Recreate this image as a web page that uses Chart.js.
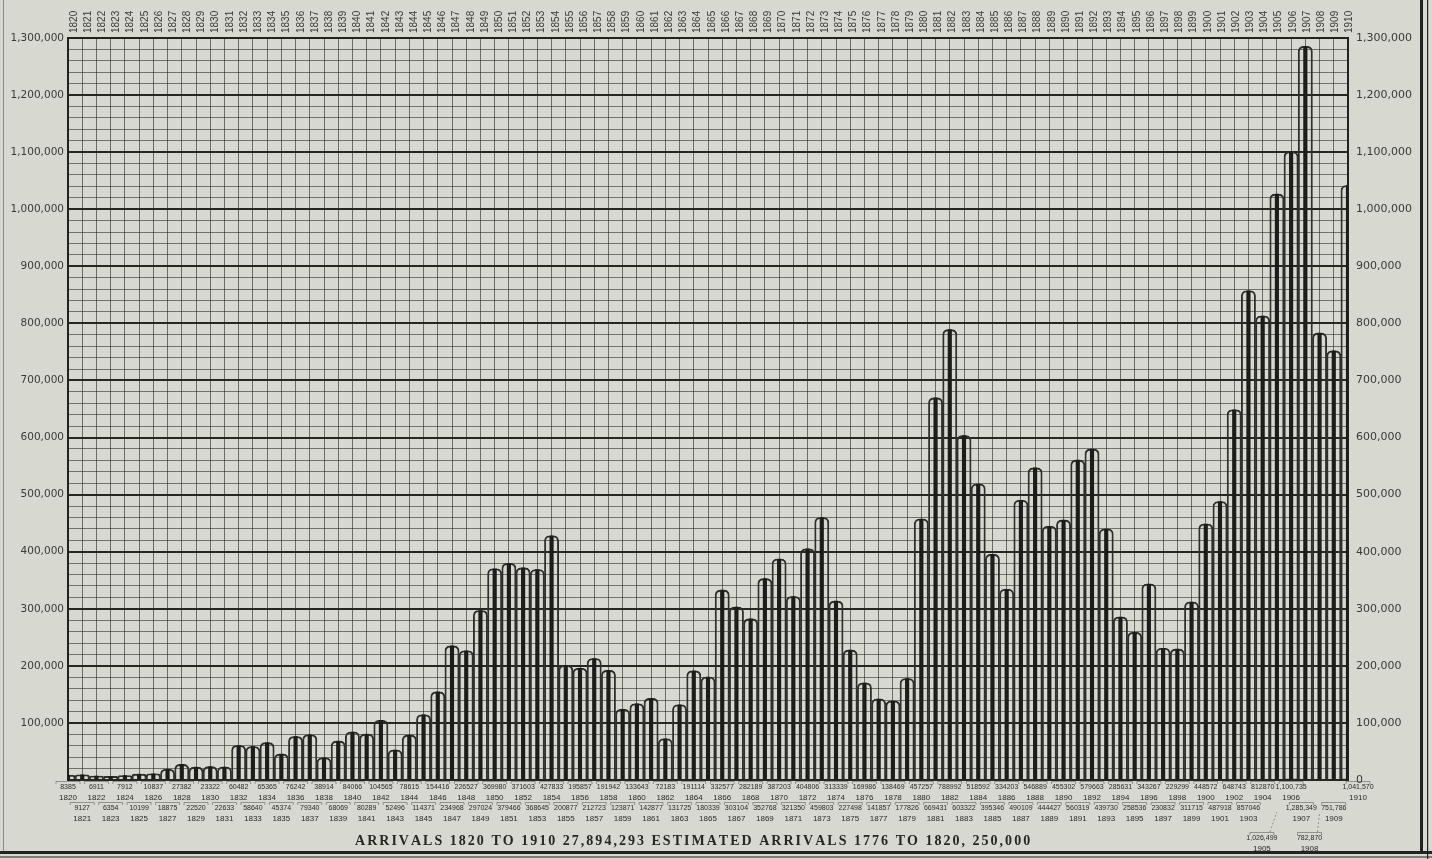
<!DOCTYPE html>
<html>
<head>
<meta charset="utf-8">
<title>Arrivals 1820 to 1910</title>
<script src="https://cdn.jsdelivr.net/npm/chart.js@4.4.1/dist/chart.umd.min.js"></script>
<style>
  html, body { margin: 0; padding: 0; background: #d7d8d0; }
  canvas { display: block; }
</style>
</head>
<body>
<canvas id="arrivalsChart" width="1432" height="859"></canvas>
<script>
const years = [
  "1820", "1821", "1822", "1823", "1824", "1825", "1826", "1827", "1828", "1829",
  "1830", "1831", "1832", "1833", "1834", "1835", "1836", "1837", "1838", "1839",
  "1840", "1841", "1842", "1843", "1844", "1845", "1846", "1847", "1848", "1849",
  "1850", "1851", "1852", "1853", "1854", "1855", "1856", "1857", "1858", "1859",
  "1860", "1861", "1862", "1863", "1864", "1865", "1866", "1867", "1868", "1869",
  "1870", "1871", "1872", "1873", "1874", "1875", "1876", "1877", "1878", "1879",
  "1880", "1881", "1882", "1883", "1884", "1885", "1886", "1887", "1888", "1889",
  "1890", "1891", "1892", "1893", "1894", "1895", "1896", "1897", "1898", "1899",
  "1900", "1901", "1902", "1903", "1904", "1905", "1906", "1907", "1908", "1909",
  "1910",
];

const arrivals = [
  8385, 9127, 6911, 6354, 7912, 10199, 10837, 18875, 27382, 22520,
  23322, 22633, 60482, 58640, 65365, 45374, 76242, 79340, 38914, 68069,
  84066, 80289, 104565, 52496, 78615, 114371, 154416, 234968, 226527, 297024,
  369980, 379466, 371603, 368645, 427833, 200877, 195857, 212723, 191942, 123871,
  133643, 142877, 72183, 131725, 191114, 180339, 332577, 303104, 282189, 352768,
  387203, 321350, 404806, 459803, 313339, 227498, 169986, 141857, 138469, 177826,
  457257, 669431, 788992, 603322, 518592, 395346, 334203, 490109, 546889, 444427,
  455302, 560319, 579663, 439730, 285631, 258536, 343267, 230832, 229299, 311715,
  448572, 487918, 648743, 857046, 812870, 1026499, 1100735, 1285349, 782870, 751786,
  1041570,
];

const yMax = 1300000;
const minorStep = 20000;
const majorStep = 100000;

const titleText =
  "ARRIVALS 1820 TO 1910 27,894,293 ESTIMATED ARRIVALS 1776 TO 1820, 250,000";

// years whose label sits on a third row below the others
const lowRowYears = { "1905": -15, "1908": -10 };

const paper = "#d7d8d0";
const ink = "#1c1c1a";

function fmt(v) {
  return v.toLocaleString("en-US");
}

const paperBg = {
  id: "paperBg",
  beforeDraw(chart) {
    const ctx = chart.ctx;
    ctx.save();
    ctx.fillStyle = paper;
    ctx.fillRect(0, 0, chart.width, chart.height);
    ctx.restore();
  },
};

const yearLabels = {
  id: "yearLabels",
  afterDraw(chart) {
    const ctx = chart.ctx;
    const x = chart.scales.x;
    ctx.save();
    ctx.fillStyle = "#3a3a38";
    ctx.font = "10px 'Liberation Sans', sans-serif";
    ctx.textAlign = "left";
    ctx.textBaseline = "middle";
    years.forEach((yr, i) => {
      const px = x.getPixelForValue(i) + 6 - i * 0.05;
      ctx.save();
      ctx.translate(px, 33);
      ctx.rotate(-Math.PI / 2);
      ctx.fillText(yr, 0, 0);
      ctx.restore();
    });
    ctx.restore();
  },
};

const bottomLabels = {
  id: "bottomLabels",
  afterDraw(chart) {
    const ctx = chart.ctx;
    const x = chart.scales.x;
    ctx.save();
    ctx.fillStyle = "#2a2a28";
    ctx.strokeStyle = "rgba(40,40,40,0.5)";
    ctx.lineWidth = 0.8;
    ctx.textAlign = "center";
    ctx.textBaseline = "middle";

    years.forEach((yr, i) => {
      let px = x.getPixelForValue(i);
      let vy = i % 2 === 0 ? 787 : 808;
      const val = i >= 85 ? fmt(arrivals[i]) : String(arrivals[i]);
      if (lowRowYears[yr] !== undefined) {
        px += lowRowYears[yr];
        vy = 838;
        ctx.beginPath();
        ctx.setLineDash([2, 2]);
        ctx.moveTo(px + 8, vy - 6);
        ctx.lineTo(x.getPixelForValue(i), 812);
        ctx.stroke();
        ctx.setLineDash([]);
      }
      if (yr === "1907") px -= 4;
      if (yr === "1910") px += 10;

      ctx.beginPath();
      ctx.moveTo(px - 12, vy - 3);
      ctx.lineTo(px - 12, vy - 5.5);
      ctx.lineTo(px + 12, vy - 5.5);
      ctx.lineTo(px + 12, vy - 3);
      ctx.stroke();

      ctx.font = "7px 'Liberation Sans Narrow', 'Liberation Sans', sans-serif";
      ctx.fillText(val, px, vy);
      ctx.font = "8px 'Liberation Sans', sans-serif";
      ctx.fillText(yr, px, vy + 10.5);
    });

    // title line, spread out to the width it has in the original
    ctx.fillStyle = "#262624";
    ctx.font = "bold 14px 'Liberation Serif', serif";
    ctx.textAlign = "left";
    const target = 670;
    const plain = ctx.measureText(titleText).width;
    const spacing = (target - plain) / (titleText.length - 1);
    let cx = 355;
    for (const ch of titleText) {
      ctx.fillText(ch, cx, 841);
      cx += ctx.measureText(ch).width + spacing;
    }

    // page frame
    ctx.fillStyle = "#222220";
    ctx.fillRect(0, 851, 1432, 3);
    ctx.fillRect(0, 856.5, 1432, 1);
    ctx.fillRect(1420, 0, 3, 852);
    ctx.fillRect(1427, 0, 1.2, 859);
    ctx.fillStyle = "rgba(60,60,60,0.5)";
    ctx.fillRect(3, 0, 1, 852);
    ctx.restore();
  },
};

const ctx = document.getElementById("arrivalsChart").getContext("2d");

new Chart(ctx, {
  type: "bar",
  data: {
    labels: years,
    datasets: [
      {
        label: "Outline",
        data: arrivals,
        grouped: false,
        backgroundColor: "rgba(0,0,0,0)",
        borderColor: "#2e2e2c",
        borderWidth: 1.2,
        borderSkipped: "bottom",
        borderRadius: { topLeft: 5, topRight: 5, bottomLeft: 0, bottomRight: 0 },
        barPercentage: 1,
        categoryPercentage: 1,
        order: 2,
      },
      {
        label: "Arrivals",
        data: arrivals,
        grouped: false,
        backgroundColor: ink,
        borderWidth: 0,
        barThickness: 3.5,
        order: 1,
      },
    ],
  },
  options: {
    responsive: false,
    animation: false,
    devicePixelRatio: 1,
    layout: { padding: { top: 0, bottom: 79, left: 0, right: 0 } },
    plugins: {
      legend: { display: false },
      tooltip: { enabled: false },
    },
    scales: {
      x: {
        position: "top",
        offset: false,
        afterFit(scale) {
          scale.height = 38;
        },
        grid: {
          offset: false,
          color: "rgba(40,40,38,0.62)",
          lineWidth: 1,
          drawTicks: false,
        },
        border: { display: true, color: "#222", width: 2 },
        ticks: { display: false },
      },
      y: {
        position: "left",
        min: 0,
        max: yMax,
        afterFit(scale) {
          scale.width = 68;
        },
        border: { display: true, color: "#222", width: 2 },
        grid: {
          drawTicks: false,
          color: (c) =>
            c.tick && c.tick.value % majorStep === 0 ? "#262624" : "rgba(40,40,38,0.58)",
          lineWidth: (c) => (c.tick && c.tick.value % majorStep === 0 ? 2 : 1),
        },
        ticks: {
          stepSize: minorStep,
          autoSkip: false,
          padding: 4,
          color: "#3a3a38",
          font: { family: "'DejaVu Sans', sans-serif", size: 10.5 },
          callback: (v) => (v % majorStep === 0 && v > 0 ? fmt(v) : ""),
        },
      },
      y2: {
        position: "right",
        min: 0,
        max: yMax,
        afterFit(scale) {
          scale.width = 84;
        },
        border: { display: true, color: "#222", width: 2 },
        grid: { display: false, drawTicks: false },
        ticks: {
          stepSize: minorStep,
          autoSkip: false,
          padding: 8,
          color: "#3a3a38",
          font: { family: "'DejaVu Sans', sans-serif", size: 11 },
          callback: (v) => (v % majorStep === 0 ? fmt(v) : ""),
        },
      },
    },
  },
  plugins: [paperBg, yearLabels, bottomLabels],
});
</script>
</body>
</html>
